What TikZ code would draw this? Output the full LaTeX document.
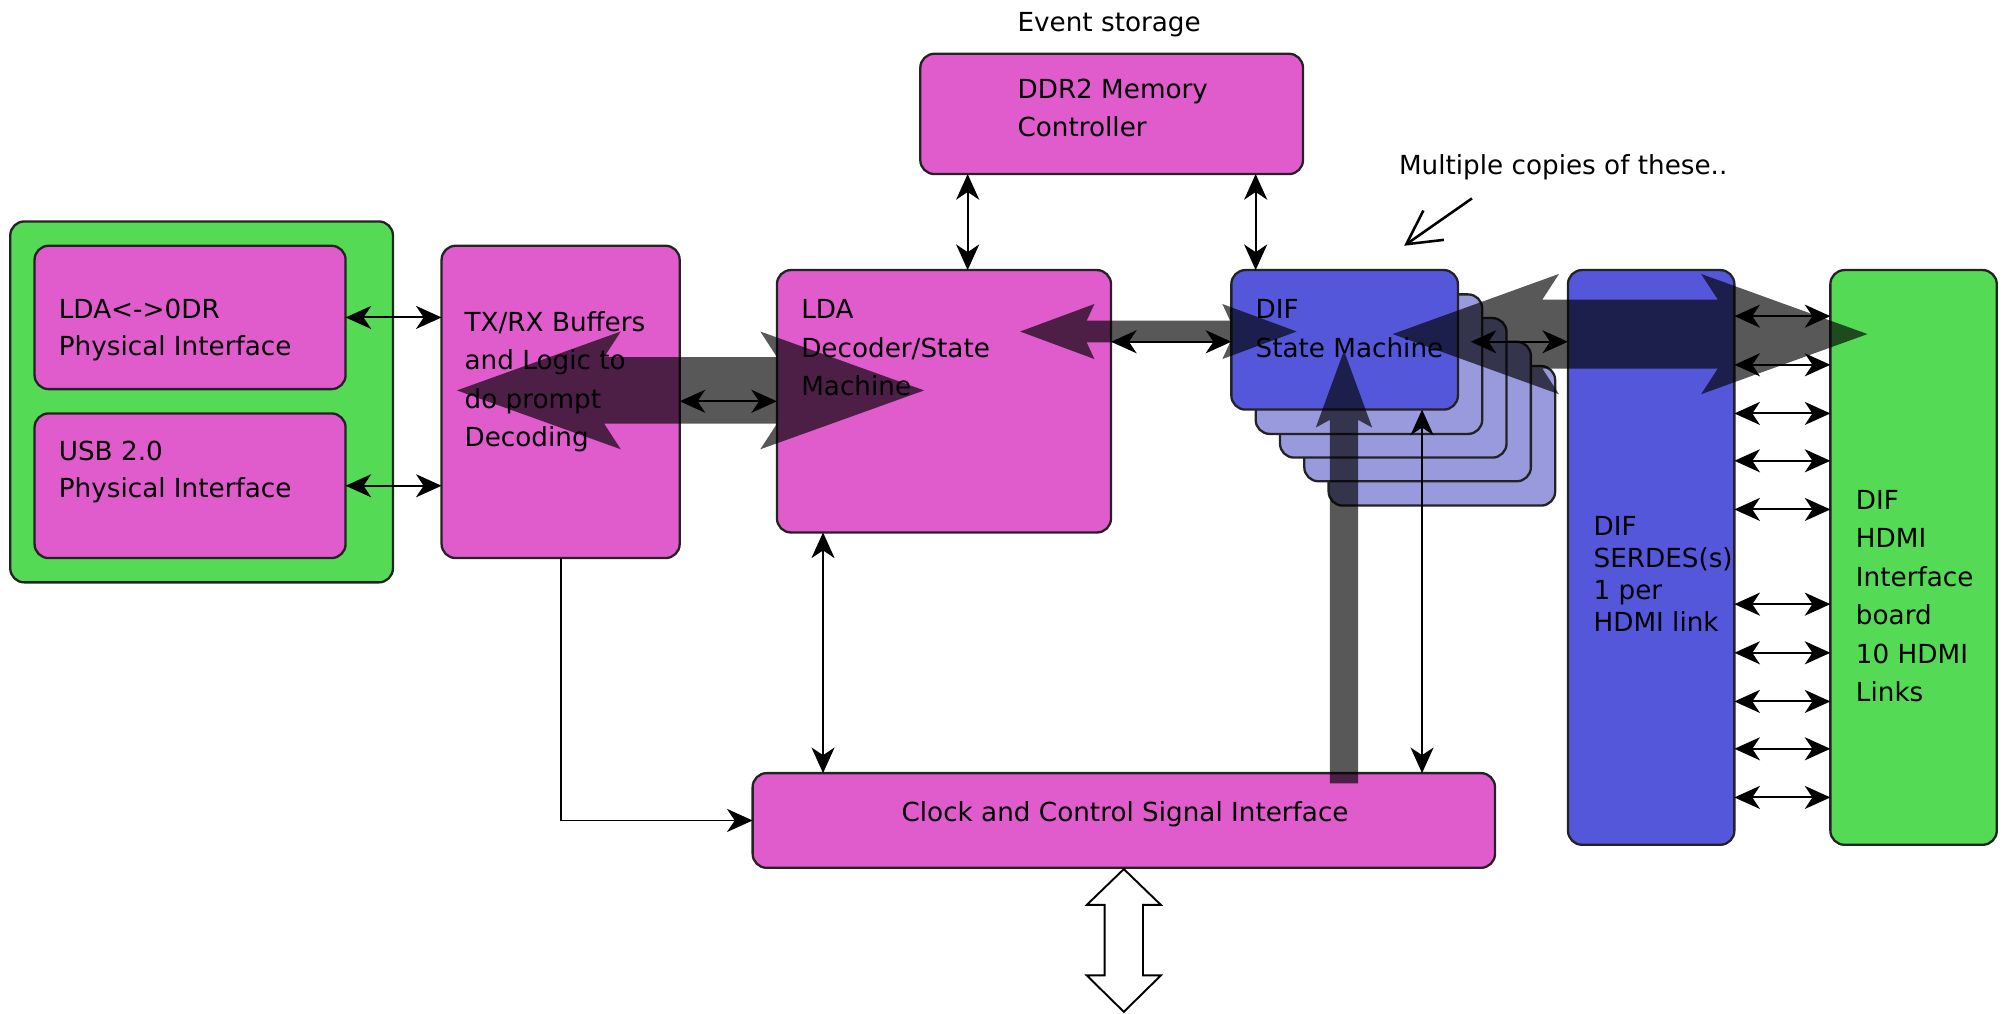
\documentclass[tikz,border=0pt]{standalone}
\usepackage{fontspec}
\setmainfont{DejaVu Sans}
\usetikzlibrary{arrows.meta}
\definecolor{magc}{RGB}{224,92,204}
\definecolor{greenc}{RGB}{85,218,85}
\definecolor{bluec}{RGB}{84,87,218}
\definecolor{lightbc}{RGB}{153,153,221}
\definecolor{edgec}{RGB}{35,35,35}
\tikzset{
  blk/.style={draw=edgec, line width=1.8pt, rounded corners=11pt, inner sep=0pt, outer sep=0pt, anchor=north west},
  magbox/.style={blk, fill=magc},
  greenbox/.style={blk, fill=greenc},
  bluebox/.style={blk, fill=bluec},
  copybox/.style={blk, fill=lightbc, minimum width=177pt, minimum height=109pt},
  lbl/.style={inner sep=0pt, outer sep=0pt, anchor=base west, font=\fontsize{20.5}{30}\selectfont},
  thinarr/.style={line width=1.5pt, draw=black, arrows={Stealth[length=20pt,width=18pt,inset=6pt]-Stealth[length=20pt,width=18pt,inset=6pt]}},
  onearr/.style={line width=1.5pt, draw=black, arrows={-Stealth[length=20pt,width=18pt,inset=6pt]}},
  bigarr/.style={fill=black, fill opacity=0.655, draw=none}
}
\begin{document}
\begin{tikzpicture}[x=1pt,y=-1pt]
\useasboundingbox (0,0) rectangle (1568,792.2);

% boxes
\node[greenbox, minimum width=299pt, minimum height=282pt] (grp) at (8,173) {};
\node[magbox, minimum width=243pt, minimum height=112pt] (ldaodr) at (27,192) {};
\node[magbox, minimum width=243pt, minimum height=113pt] (usb) at (27,323) {};
\node[magbox, minimum width=186pt, minimum height=244pt] (txrx) at (345,192) {};
\node[magbox, minimum width=261pt, minimum height=205pt] (ldadec) at (607,211) {};
\node[magbox, minimum width=299pt, minimum height=94pt] (ddr2) at (719,42) {};
\node[copybox] (cp4) at (1038,286) {};
\node[copybox] (cp3) at (1019,267) {};
\node[copybox] (cp2) at (1000,248.5) {};
\node[copybox] (cp1) at (981,230) {};
\node[bluebox, minimum width=177pt, minimum height=109pt] (difsm) at (962,211) {};
\node[bluebox, minimum width=130pt, minimum height=449pt] (serdes) at (1225,211) {};
\node[greenbox, minimum width=130pt, minimum height=449pt] (hdmi) at (1430,211) {};
\node[magbox, minimum width=580pt, minimum height=74pt] (clock) at (588,604) {};

% texts
\node[lbl] (tev) at (795,25) {Event storage};
\node[lbl] (tddr) at (795,77) {\begin{tabular}[t]{@{}l@{}}DDR2 Memory\\Controller\end{tabular}};
\node[lbl, font=\fontsize{20.5}{29}\selectfont] (tlo) at (46,248.5) {\begin{tabular}[t]{@{}l@{}}LDA<->0DR\\Physical Interface\end{tabular}};
\node[lbl, font=\fontsize{20.5}{29}\selectfont] (tusb) at (46,360) {\begin{tabular}[t]{@{}l@{}}USB 2.0\\Physical Interface\end{tabular}};
\node[lbl] (ttx) at (363,259) {\begin{tabular}[t]{@{}l@{}}TX/RX Buffers\\and Logic to\\do prompt\\Decoding\end{tabular}};
\node[lbl] (tlda) at (626,249) {\begin{tabular}[t]{@{}l@{}}LDA\\Decoder/State\\Machine\end{tabular}};
\node[lbl] (tdif) at (981,249) {\begin{tabular}[t]{@{}l@{}}DIF\\State Machine\end{tabular}};
\node[lbl, font=\fontsize{20.5}{25}\selectfont] (tser) at (1245,418) {\begin{tabular}[t]{@{}l@{}}DIF\\SERDES(s)\\1 per\\HDMI link\end{tabular}};
\node[lbl] (thd) at (1450,398) {\begin{tabular}[t]{@{}l@{}}DIF\\HDMI\\Interface\\board\\10 HDMI\\Links\end{tabular}};
\node[lbl, anchor=base] (tclk) at (879,642) {Clock and Control Signal Interface};
\node[lbl] (tmul) at (1093,136) {Multiple copies of these..};

% helper coordinates
\coordinate (xa) at (756,0);
\coordinate (xb) at (981,0);
\coordinate (xc) at (643,0);
\coordinate (xd) at (1111,0);
\coordinate (ya) at (0,267);
\coordinate (xe) at (1149,0);
\coordinate (m1) at (1150,155);
\coordinate (m2) at (1097,192);

% thin connectors
\draw[thinarr] (ldaodr.east) -- (ldaodr.east -| txrx.west);
\draw[thinarr] (usb.east) -- (usb.east -| txrx.west);
\draw[thinarr] (txrx.east |- ldadec.west) -- (ldadec.west);
\draw[thinarr] (xa |- ddr2.south) -- (xa |- ldadec.north);
\draw[thinarr] (xb |- ddr2.south) -- (xb |- difsm.north);
\draw[thinarr] (ldadec.east |- ya) -- (difsm.west |- ya);
\draw[thinarr] (xe |- ya) -- (serdes.west |- ya);
\draw[thinarr] (xc |- ldadec.south) -- (xc |- clock.north);
\draw[thinarr] (xd |- difsm.south) -- (xd |- clock.north);
\draw[onearr] (txrx.south) |- (clock.west);
\foreach \yy/\nm in {247/l1,285/l2,323/l3,360/l4,398/l5,472/l6,510/l7,548/l8,585/l9,623/l10}{
  \coordinate (\nm) at (0,\yy);
  \draw[thinarr] (serdes.east |- \nm) -- (hdmi.west |- \nm);
}
\draw[line width=2pt, -{Straight Barb[length=26pt,width=28pt]}] (m1) -- (m2);

% big translucent arrows
\fill[bigarr] (357,305) -- (485,259) -- (472,279) -- (607,279) -- (594,259) -- (722,305)
  -- (594,351) -- (607,331) -- (472,331) -- (485,351) -- cycle;
\fill[bigarr] (797,259) -- (855,237.5) -- (849,250.5) -- (961,250.5) -- (955,237.5) -- (1013,259)
  -- (955,280.5) -- (961,267.5) -- (849,267.5) -- (855,280.5) -- cycle;
\fill[bigarr] (1088,261) -- (1218,214) -- (1205,234) -- (1342,234) -- (1329,214) -- (1459,261)
  -- (1329,308) -- (1342,288) -- (1205,288) -- (1218,308) -- cycle;
\fill[bigarr] (1050,274) -- (1072,334) -- (1061,328) -- (1061,612) -- (1039,612) -- (1039,328)
  -- (1028,334) -- cycle;

% hollow bus arrow
\draw[fill=white, draw=black, line width=1.5pt, line join=miter] (878,679) -- (907,707) -- (893,707)
  -- (893,762) -- (907,762) -- (878,790.5) -- (849,762) -- (863,762) -- (863,707) -- (849,707) -- cycle;
\end{tikzpicture}
\end{document}
